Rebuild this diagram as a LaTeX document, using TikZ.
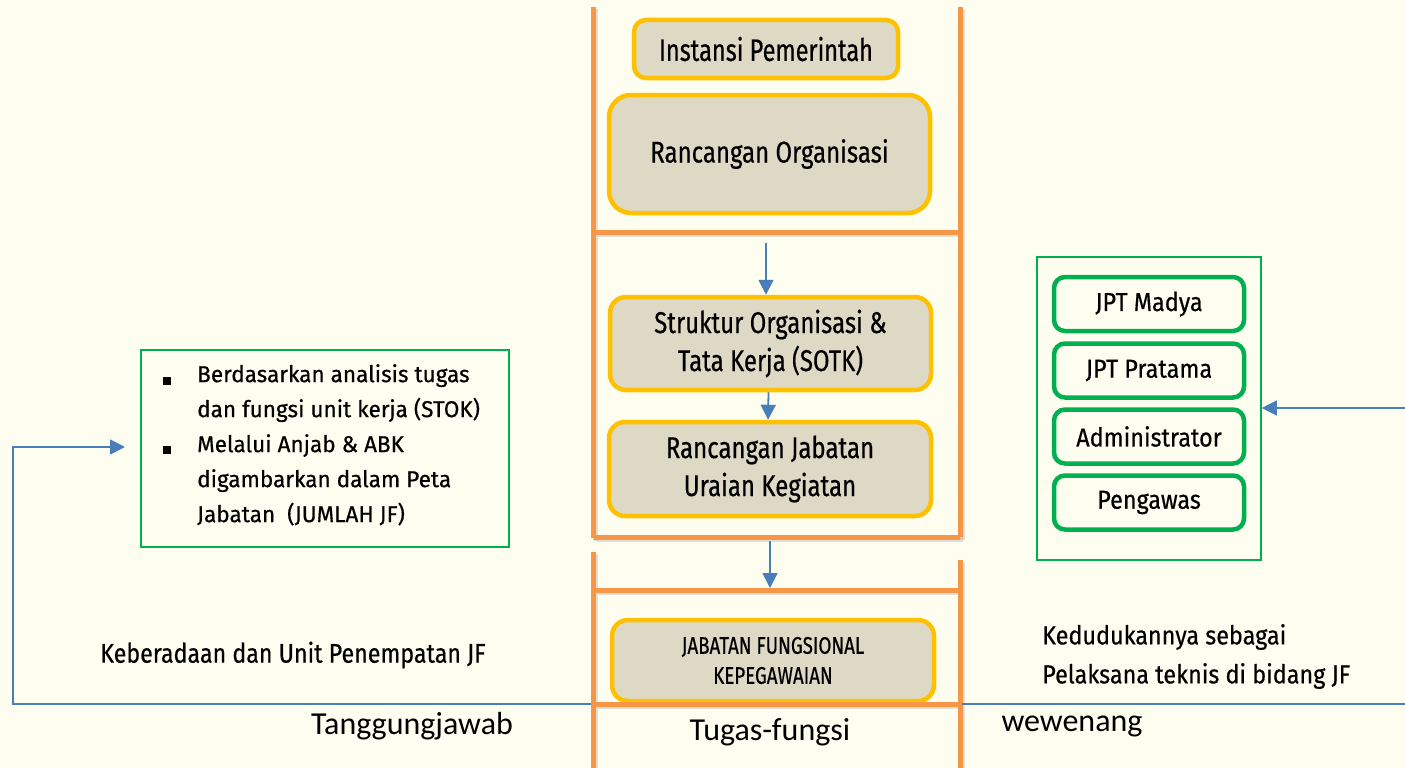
\documentclass[tikz,border=0pt]{standalone}
\usepackage{fontspec}
\newcommand\dinf[3]{\fontspec[FakeStretch=#2,FakeBold=0.5]{Fira Sans}\fontsize{#1}{#3}\selectfont}
\newfontfamily\calfont{Carlito}
\usetikzlibrary{arrows.meta}
\definecolor{bgc}{RGB}{254,254,240}
\definecolor{ladder}{RGB}{247,150,70}
\definecolor{ybord}{RGB}{255,192,0}
\definecolor{yfill}{RGB}{221,217,196}
\definecolor{gbord}{RGB}{0,176,80}
\definecolor{ablue}{RGB}{74,126,187}
\tikzset{
  rail/.style={draw=ladder,line width=5pt},
  railshadow/.style={draw=black!35,line width=5pt,opacity=0.35},
  ybox/.style={draw=ybord,fill=yfill,line width=4.5pt,rounded corners=16pt,align=center,font=\dinf{30}{0.8}{38},inner sep=0pt},
  gbox/.style={draw=gbord,line width=4.5pt,rounded corners=11pt,fill=bgc,minimum width=190pt,minimum height=54pt,font=\dinf{26}{0.9}{30}},
  gframe/.style={draw=gbord,line width=1.6pt},
  conn/.style={draw=ablue,line width=1.8pt},
  arr/.style={conn,-{Triangle[length=15pt,width=15pt]}},
  lbl/.style={font=\calfont\fontsize{32}{36}\selectfont,inner sep=0pt},
  txt/.style={inner sep=0pt,align=left},
  bul/.style={fill=black,minimum size=7.5pt,inner sep=0pt}
}
\begin{document}
\begin{tikzpicture}[x=1pt,y=-1pt]
\fill[bgc] (0,0) rectangle (1405,768);
\useasboundingbox (0,0) rectangle (1405,768);
% ladder shadows
\foreach \a/\b/\c/\d in {593/7/593/538, 960/7/960/537, 595/232/958/232, 594/537/960/537, 593/552/593/768, 960/560/960/768, 595/590/958/590, 595/704/958/704}
  \draw[railshadow] (\a+2.5,\b+2.5) -- (\c+2.5,\d+2.5);
% ladder
\draw[rail] (593,7) -- (593,538);
\draw[rail] (960,7) -- (960,537);
\draw[rail] (595,232) -- (958,232);
\draw[rail] (594,537) -- (960,537);
\draw[rail] (593,552) -- (593,768);
\draw[rail] (960,560) -- (960,768);
\draw[rail] (595,590) -- (958,590);
% central boxes
\node[ybox,minimum width=264pt,minimum height=58pt,rounded corners=12pt,font=\dinf{31}{0.76}{38}] (inst) at (766,49) {Instansi Pemerintah};
\node[ybox,minimum width=321pt,minimum height=118pt,rounded corners=22pt] (rorg) at (769.5,154) {Rancangan Organisasi};
\node[ybox,minimum width=321pt,minimum height=93pt] (sotk) at (770.5,343.5) {Struktur Organisasi \&\\Tata Kerja (SOTK)};
\node[ybox,minimum width=322pt,minimum height=94pt] (rjab) at (770,469) {Rancangan Jabatan\\Uraian Kegiatan};
\node[ybox,minimum width=322pt,minimum height=81pt,font=\dinf{24}{0.78}{30}] (jf) at (773,660.5) {JABATAN FUNGSIONAL\\KEPEGAWAIAN};
\draw[rail] (595,704) -- (958,704);
% arrows in the middle
\coordinate (a1) at (766,243);
\draw[arr] (a1) -- (sotk.north -| a1);
\draw[arr] ([xshift=-2pt]sotk.south) -- ([xshift=-2pt]rjab.north);
\coordinate (a3s) at (770,541);
\coordinate (a3e) at (770,588);
\draw[arr] (a3s) -- (a3e);
% left green box
\node[gframe,minimum width=368pt,minimum height=197pt] (lbox) at (325,448.5) {};
\node[bul] (b1) at (167,381) {};
\node[bul] (b2) at (167,450) {};
\node[txt,anchor=north west,font=\dinf{23}{0.98}{35}] (ltxt) at (197,364) {Berdasarkan analisis tugas\\dan fungsi unit kerja (STOK)\\Melalui Anjab \& ABK\\digambarkan dalam Peta\\Jabatan~~(JUMLAH JF)};
% right green box
\node[gframe,minimum width=224pt,minimum height=303pt] (rbox) at (1149,408.5) {};
\node[gbox] (g1) at (1149,304) {JPT Madya};
\node[gbox] (g2) at (1149,370.5) {JPT Pratama};
\node[gbox] (g3) at (1149,436.5) {Administrator};
\node[gbox] (g4) at (1149,502.5) {Pengawas};
% connectors
\coordinate (lstart) at (591,704);
\coordinate (lcorner) at (13,704);
\coordinate (lend) at (125,447);
\draw[conn,-{Triangle[length=15pt,width=15pt]}] (lstart) -- (lcorner) |- (lend);
\coordinate (rstart) at (962,704);
\coordinate (rend) at (1405,704);
\draw[conn] (rstart) -- (rend);
\coordinate (rarr) at (1405,408);
\draw[arr] (rarr) -- (rbox.east |- rarr);
% texts
\node[txt,font=\dinf{27}{0.86}{39}] (keb) at (293,655) {Keberadaan dan Unit Penempatan JF};
\node[txt,anchor=west,font=\dinf{26}{0.9}{39}] (ked) at (1042,656.5) {Kedudukannya sebagai\\Pelaksana teknis di bidang JF};
\node[lbl] (tj) at (412,726) {Tanggungjawab};
\node[lbl] (tf) at (770,732) {Tugas-fungsi};
\node[lbl] (ww) at (1072,726) {wewenang};
\end{tikzpicture}
\end{document}
